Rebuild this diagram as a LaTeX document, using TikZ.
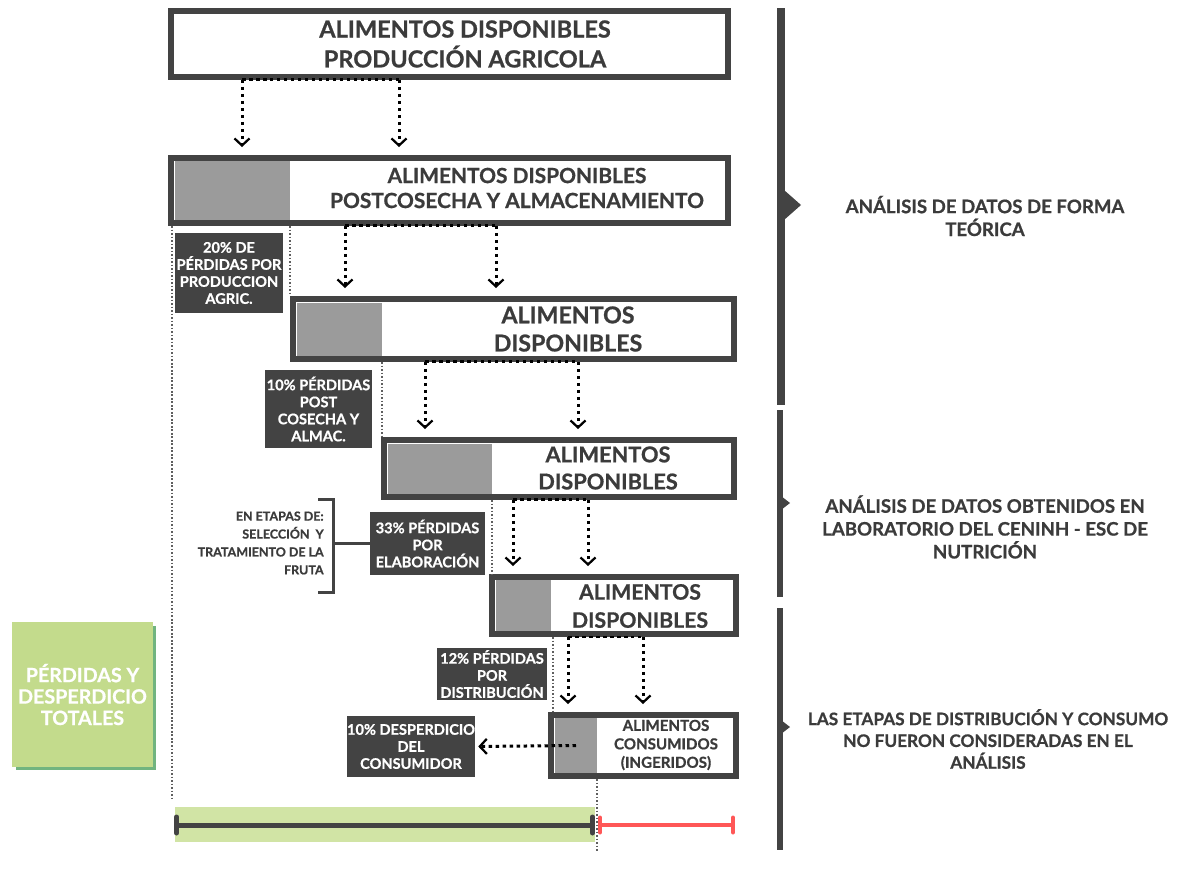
\documentclass[tikz,border=0pt]{standalone}
\usepackage{fontspec}
\setmainfont{Lato}[BoldFeatures={FakeBold=0.8}]
\usetikzlibrary{arrows.meta,positioning,shadows}
\definecolor{boxdark}{HTML}{434343}
\definecolor{textdark}{HTML}{3B3B3B}
\definecolor{lossgray}{HTML}{9B9B9B}
\definecolor{totalgreen}{HTML}{C3DB8C}
\definecolor{shadegreen}{HTML}{71B47F}
\definecolor{brushgreen}{HTML}{D1E4A5}
\definecolor{outred}{HTML}{FF5757}

\begin{document}
\begin{tikzpicture}[
    x=0.02cm,
    y=-0.02cm,
    font=\bfseries,
    stage/.style={
		rectangle,
		draw=boxdark,
		line width=0.12cm,
		inner sep=0pt
	},
	stagetext/.style={
		text=textdark,
		align=center,
		inner sep=0pt
	},
	loss/.style={
		rectangle,
		fill=boxdark,
		text=white,
		align=center,
		inner sep=0pt,
		font=\bfseries\fontsize{8.3}{9.7}\selectfont
	},
	flow/.style={
		draw=black,
		line width=0.06cm,
		dash pattern=on 0.07cm off 0.07cm,
		-{Straight Barb[length=0.14cm, width=0.3cm, line width=0.045cm]},
		shorten >=0.16cm
	},
	flowtop/.style={
		draw=black,
		line width=0.06cm,
		dash pattern=on 0.07cm off 0.07cm
	},
	guide/.style={
		densely dotted,
		line width=0.035cm,
		draw=boxdark!85
	},
	note/.style={
		text=textdark,
		align=center,
		font=\bfseries\fontsize{10.6}{13}\selectfont
	}
  ]

\useasboundingbox (0,0) rectangle (1177,872);

% // grey share lost in each stage
\fill [lossgray] (175,160) rectangle (290,221);
\fill [lossgray] (297,303) rectangle (382,356);
\fill [lossgray] (388,444) rectangle (492,494);
\fill [lossgray] (496,580) rectangle (551,631);
\fill [lossgray] (555,718) rectangle (597,773);

% // the stages
\node [stage, minimum width=11.14cm, minimum height=1.32cm] (b1) at (449.5,44) {};
\node [stage, minimum width=11.14cm, minimum height=1.30cm] (b2) at (449.5,190.5) {};
\node [stage, minimum width=8.82cm, minimum height=1.20cm] (b3) at (513.5,329) {};
\node [stage, minimum width=7.00cm, minimum height=1.14cm] (b4) at (559,468.5) {};
\node [stage, minimum width=4.88cm, minimum height=1.14cm] (b5) at (614,605.5) {};
\node [stage, minimum width=3.70cm, minimum height=1.22cm] (b6) at (643.5,745.5) {};

\node [stagetext, font=\bfseries\fontsize{13.4}{17}\selectfont] (b1txt) at (465,44)
 {ALIMENTOS DISPONIBLES\\PRODUCCIÓN AGRICOLA};
\node [stagetext, font=\bfseries\fontsize{11.9}{14.2}\selectfont] (b2txt) at (517,188)
 {ALIMENTOS DISPONIBLES\\POSTCOSECHA Y ALMACENAMIENTO};
\node [stagetext, font=\bfseries\fontsize{13.2}{16}\selectfont] (b3txt) at (568,329)
 {ALIMENTOS\\DISPONIBLES};
\node [stagetext, font=\bfseries\fontsize{12.4}{15.4}\selectfont] (b4txt) at (608,468)
 {ALIMENTOS\\DISPONIBLES};
\node [stagetext, font=\bfseries\fontsize{12.1}{16}\selectfont] (b5txt) at (640,606)
 {ALIMENTOS\\DISPONIBLES};
\node [stagetext, font=\bfseries\fontsize{8.6}{10.5}\selectfont] (b6txt) at (666,745)
 {ALIMENTOS\\CONSUMIDOS\\(INGERIDOS)};

% // losses
\node [loss, minimum width=2.16cm, minimum height=1.60cm] (l1) at (229,273)
 {20\% DE\\PÉRDIDAS POR\\PRODUCCION\\AGRIC.};
\node [loss, minimum width=2.14cm, minimum height=1.56cm] (l2) at (318.5,409)
 {10\% PÉRDIDAS\\POST\\COSECHA Y\\ALMAC.};
\node [loss, minimum width=2.30cm, minimum height=1.26cm] (l3) at (427.5,543.5)
 {33\% PÉRDIDAS\\POR\\ELABORACIÓN};
\node [loss, minimum width=2.20cm, minimum height=1.04cm] (l4) at (492,674)
 {12\% PÉRDIDAS\\POR\\DISTRIBUCIÓN};
\node [loss, minimum width=2.36cm, minimum height=1.22cm] (l5) at (411,746.5)
 {10\% DESPERDICIO\\DEL\\CONSUMIDOR};

% // dotted flows
\draw [flowtop] (b1.south -| 242,0) -- (b1.south -| 399,0);
\draw [flow] (b1.south -| 242,0) -- (b2.north -| 242,0);
\draw [flow] (b1.south -| 399,0) -- (b2.north -| 399,0);

\draw [flowtop] (b2.south -| 345,0) -- (b2.south -| 496,0);
\draw [flow] (b2.south -| 345,0) -- (b3.north -| 345,0);
\draw [flow] (b2.south -| 496,0) -- (b3.north -| 496,0);

\draw [flowtop] (b3.south -| 425,0) -- (b3.south -| 578,0);
\draw [flow] (b3.south -| 425,0) -- (b4.north -| 425,0);
\draw [flow] (b3.south -| 578,0) -- (b4.north -| 578,0);

\draw [flowtop] (b4.south -| 513,0) -- (b4.south -| 588,0);
\draw [flow] (b4.south -| 513,0) -- (b5.north -| 513,0);
\draw [flow] (b4.south -| 588,0) -- (b5.north -| 588,0);

\draw [flowtop] (b5.south -| 568,0) -- (b5.south -| 643,0);
\draw [flow] (b5.south -| 568,0) -- (b6.north -| 568,0);
\draw [flow] (b5.south -| 643,0) -- (b6.north -| 643,0);

\draw [flow, shorten >=0.06cm] (b6.center -| 576,0) -- (l5.east);

% // guides
\coordinate (g1end) at (172,800);
\coordinate (g6end) at (597,852);
\draw [guide] (b2.south -| 172,0) -- (g1end);
\draw [guide] (b2.south -| 290,0) -- (b3.north -| 290,0);
\draw [guide] (b3.south -| 382,0) -- (b4.north -| 382,0);
\draw [guide] (b4.south -| 492,0) -- (b5.north -| 492,0);
\draw [guide] (b5.south -| 553,0) -- (b6.north -| 553,0);
\draw [guide] (b6.south -| 597,0) -- (g6end);

% // bracket
\node [text=textdark, align=right, anchor=east, inner sep=0pt,
 font=\bfseries\fontsize{7.1}{10.2}\selectfont] (steps) at (324,543)
 {EN ETAPAS DE:\\SELECCIÓN~ Y\\TRATAMIENTO DE LA\\FRUTA};
\draw [boxdark, line width=0.06cm] (318,499) -- (333,499) -- (333,592) -- (318,592);
\draw [boxdark, line width=0.06cm] (l3.west) -- (l3.west -| 333,0);

% // total
\node [rectangle, fill=totalgreen, minimum width=2.82cm, minimum height=2.9cm,
 general shadow={shadow xshift=0.07cm, shadow yshift=-0.07cm, fill=shadegreen},
 text=white, align=center, font=\bfseries\fontsize{11.2}{12.2}\selectfont] (total) at (82.5,694.5)
 {PÉRDIDAS Y\\DESPERDICIO\\TOTALES};

% // bottom bar
\node [rectangle, fill=brushgreen, minimum width=8.4cm, minimum height=0.7cm, inner sep=0pt] (brush) at (385,824.5) {};
\coordinate (barL) at (174,825);
\coordinate (barM) at (595,825);
\coordinate (barR) at (735,825);
\draw [boxdark, line width=0.1cm, {Bar[width=0.32cm, line cap=round]}-{Bar[width=0.32cm, line cap=round]}] (barL) -- (barM);
\draw [outred, line width=0.08cm, {Bar[width=0.3cm, line cap=round]}-{Bar[width=0.3cm, line cap=round]}] ([xshift=0.06cm]barM) -- (barR);

% // right rails
\draw [boxdark, line width=0.16cm] (781,8) -- (781,405);
\fill [boxdark] (784,190) -- (801,205) -- (784,220) -- cycle;
\draw [boxdark, line width=0.12cm] (780,410) -- (780,597);
\fill [boxdark] (781,496) -- (790,503) -- (781,510) -- cycle;
\draw [boxdark, line width=0.12cm] (780,608) -- (780,850);
\fill [boxdark] (781,720) -- (790,727) -- (781,734) -- cycle;

\node [note] (t1) at (985,216) {ANÁLISIS DE DATOS DE FORMA\\TEÓRICA};
\node [note] (t2) at (985,527) {ANÁLISIS DE DATOS OBTENIDOS EN\\LABORATORIO DEL CENINH - ESC DE\\NUTRICIÓN};
\node [note, font=\bfseries\fontsize{9.8}{12.4}\selectfont] (t3) at (988,739) {LAS ETAPAS DE DISTRIBUCIÓN Y CONSUMO\\NO FUERON CONSIDERADAS EN EL\\ANÁLISIS};

\end{tikzpicture}
\end{document}
